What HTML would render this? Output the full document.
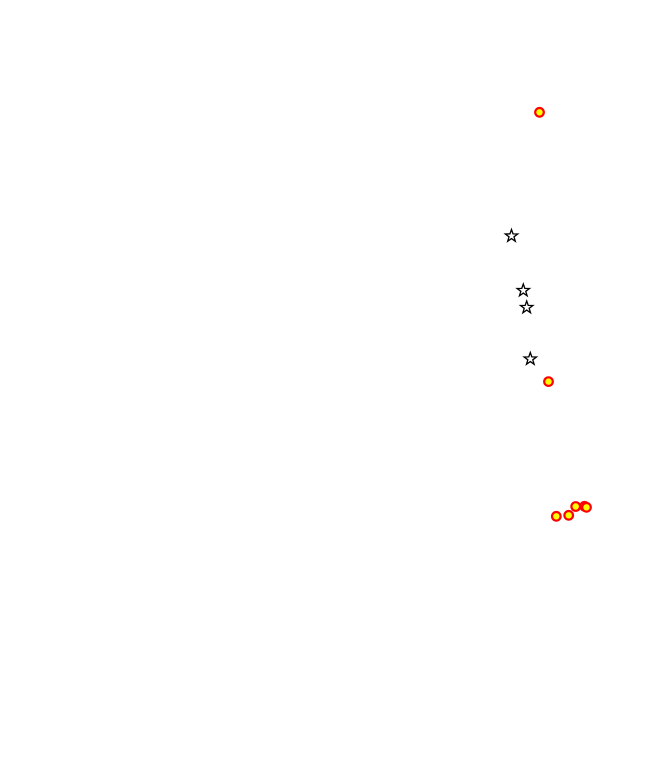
<!DOCTYPE html>
<html><head><meta charset="utf-8"><style>
html,body{margin:0;padding:0;background:#fff;width:650px;height:780px;overflow:hidden}
svg{display:block}
</style></head><body>
<svg width="650" height="780" viewBox="0 0 650 780" xmlns="http://www.w3.org/2000/svg">
<defs>
<polygon id="st" points="0,-6.5 1.53,-2.1 6.18,-2.01 2.47,0.8 3.82,5.26 0,2.6 -3.82,5.26 -2.47,0.8 -6.18,-2.01 -1.53,-2.1" fill="#fff" stroke="#000" stroke-width="1.3" stroke-linejoin="miter"/>
</defs>
<use href="#st" x="511.5" y="236"/>
<use href="#st" x="523.3" y="290.5"/>
<use href="#st" x="526.7" y="307.5"/>
<use href="#st" x="530.3" y="359"/>
<g fill="#ffff00" stroke="#ff0000" stroke-width="2.2">
<circle cx="539.5" cy="112.3" r="4.3"/>
<circle cx="548.5" cy="381.6" r="4.3"/>
<circle cx="556.3" cy="516.3" r="4.3"/>
<circle cx="568.7" cy="515.3" r="4.3"/>
<circle cx="575.7" cy="506.5" r="4.3"/>
<circle cx="584.5" cy="506.3" r="4.3"/>
<circle cx="586.5" cy="507.3" r="4.3"/>
</g>
</svg>
</body></html>
